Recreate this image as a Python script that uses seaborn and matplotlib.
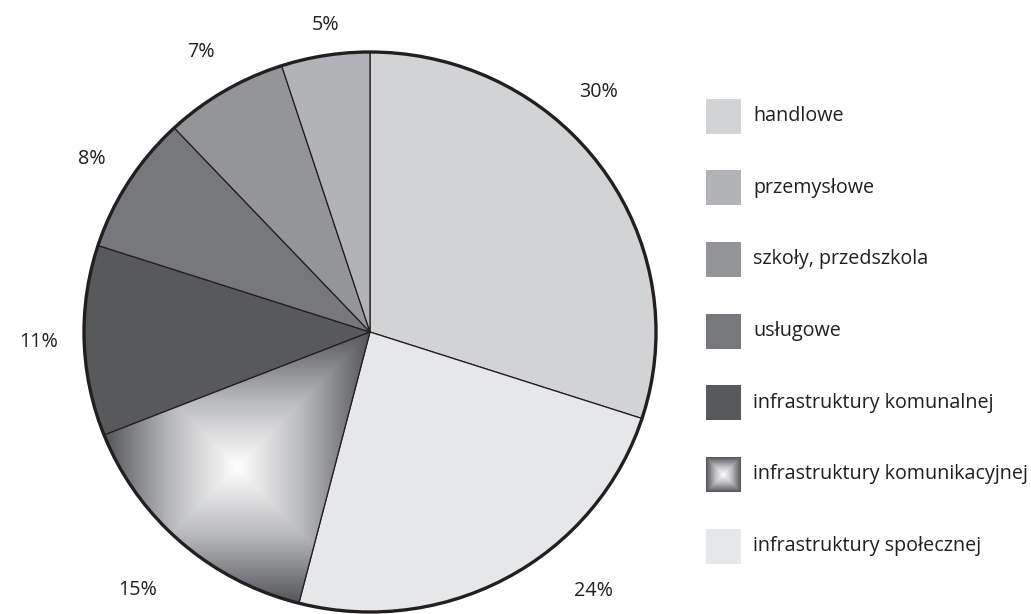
import numpy as np
import matplotlib
matplotlib.use("Agg")
import matplotlib.pyplot as plt
import matplotlib.colors as mcolors
from matplotlib.patches import Rectangle, Ellipse
import seaborn as sns

# ---- data (clockwise from 12 o'clock) ----
categories = ["handlowe", "infrastruktury społecznej", "infrastruktury komunikacyjnej",
              "infrastruktury komunalnej", "usługowe", "szkoły, przedszkola", "przemysłowe"]
values = [30, 24, 15, 11, 8, 7, 5]
pct_labels = ["30%", "24%", "15%", "11%", "8%", "7%", "5%"]
legend_order = ["handlowe", "przemysłowe", "szkoły, przedszkola", "usługowe",
                "infrastruktury komunalnej", "infrastruktury komunikacyjnej",
                "infrastruktury społecznej"]

# ---- styles ----
colors = {
    "handlowe": "#d1d3d4",
    "infrastruktury społecznej": "#e6e7e8",
    "infrastruktury komunikacyjnej": "#8a8b8e",
    "infrastruktury komunalnej": "#58595b",
    "usługowe": "#77787b",
    "szkoły, przedszkola": "#939598",
    "przemysłowe": "#b1b3b6",
}
gradient_cat = "infrastruktury komunikacyjnej"
dark = "#231f20"
label_shift_deg = [11, 11.4, 0, 0, 0, 0, -1]
label_dist = [1.17, 1.21, 1.23, 1.16, 1.15, 1.16, 1.107]
FS = 14.2

sns.set_theme(style="white")
plt.rcParams["font.family"] = ["Open Sans", "DejaVu Sans"]

W, H, DPI = 1031, 614, 100
fig = plt.figure(figsize=(W / DPI, H / DPI), dpi=DPI)
fig.patch.set_facecolor("white")

cmap = mcolors.LinearSegmentedColormap.from_list("pyr", ["#ffffff", "#b8b9bb", "#55565a"])

def pyramid(n=200):
    u = np.linspace(-1, 1, n)
    U, V = np.meshgrid(u, u)
    return np.maximum(np.abs(U), np.abs(V))

# ---- pie ----
ax = fig.add_axes([84 / W, 1 - 612 / H, 572 / W, 560 / H])
wedges, _ = ax.pie(values, colors=[colors[c] for c in categories], startangle=90,
                   counterclock=False, radius=1,
                   wedgeprops=dict(edgecolor=dark, linewidth=0.9))
ax.set_aspect("auto")
ax.set_xlim(-1, 1)
ax.set_ylim(-1, 1)
ax.axis("off")

# gradient fill for the "komunikacyjnej" wedge
for w, c in zip(wedges, categories):
    if c == gradient_cat:
        verts = w.get_patch_transform().transform(w.get_path().vertices)
        x0, y0 = verts.min(axis=0)
        x1, y1 = verts.max(axis=0)
        im = ax.imshow(pyramid(), cmap=cmap, extent=[x0, x1, y0, y1], origin="lower",
                       interpolation="bilinear", zorder=w.get_zorder() + 0.1, vmin=0, vmax=1)
        im.set_clip_path(w)
        ax.set_aspect("auto")
        ax.set_xlim(-1, 1)
        ax.set_ylim(-1, 1)
        w.set_zorder(im.get_zorder() + 0.1)
        w.set_facecolor("none")

outline = Ellipse((0, 0), 2, 2, fill=False, edgecolor=dark, linewidth=2.4, zorder=10, clip_on=False)
ax.add_patch(outline)

# percentage labels
for w, lab, sh, r in zip(wedges, pct_labels, label_shift_deg, label_dist):
    mid = np.deg2rad((w.theta1 + w.theta2) / 2 + sh)
    ax.text(r * np.cos(mid), r * np.sin(mid), lab, ha="center", va="center",
            fontsize=FS, color=dark)

# ---- legend (drawn in its own axes) ----
lax = fig.add_axes([0, 0, 1, 1])
lax.axis("off")
row_y0, row_dy, sw = 116, 71.7, 35
for i, c in enumerate(legend_order):
    yc = row_y0 + i * row_dy
    if c == gradient_cat:
        lax.imshow(pyramid(), cmap=cmap, extent=[706, 706 + sw, yc + sw / 2, yc - sw / 2],
                   interpolation="bilinear", vmin=0, vmax=1)
    else:
        lax.add_patch(Rectangle((706, yc - sw / 2), sw, sw, facecolor=colors[c], edgecolor="none"))
    lax.text(753, yc, c, ha="left", va="center", fontsize=FS, color=dark)
lax.set_xlim(0, W)
lax.set_ylim(H, 0)
lax.set_aspect("auto")

fig.savefig("out.png", dpi=DPI, facecolor="white")
